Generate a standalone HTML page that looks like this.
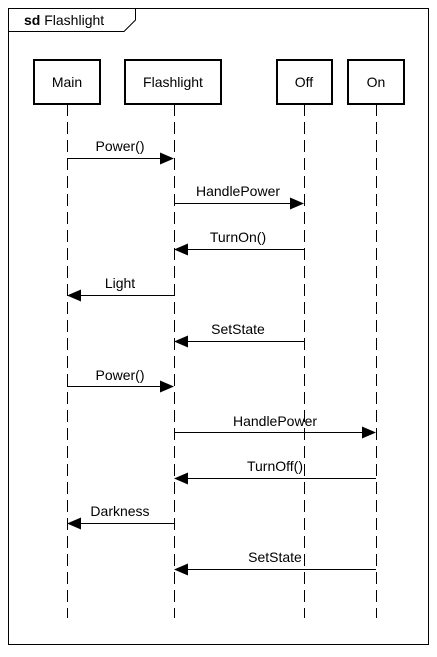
<!DOCTYPE html>
<html><head><style>body{margin:0;background:#fff}</style></head><body>
<svg width="437" height="652" xmlns="http://www.w3.org/2000/svg" font-family="Liberation Sans, Arial, sans-serif" font-size="13">
<rect x="0" y="0" width="437" height="652" fill="#fff"/>
<rect x="8.5" y="8.5" width="420" height="636" fill="none" stroke="#000" stroke-width="1"/>
<path d="M8.5 31.5 H124 L135.5 20 V8.5" fill="none" stroke="#000"/>
<text x="24" y="25" font-size="14"><tspan font-weight="bold">sd</tspan> Flashlight</text>
<g fill="#fff" stroke="#000" stroke-width="2">
<rect x="34" y="60" width="66" height="44"/>
<rect x="125" y="60" width="96" height="44"/>
<rect x="277" y="60" width="55" height="44"/>
<rect x="348" y="60" width="56" height="44"/>
</g>
<g text-anchor="middle" font-size="14">
<text x="67" y="87">Main</text>
<text x="173" y="87">Flashlight</text>
<text x="304" y="87">Off</text>
<text x="376" y="87">On</text>
</g>
<g stroke="#000" stroke-dasharray="12,6">
<line x1="67.5" y1="104" x2="67.5" y2="618"/>
<line x1="174.5" y1="104" x2="174.5" y2="618"/>
<line x1="304.5" y1="104" x2="304.5" y2="618"/>
<line x1="376.5" y1="104" x2="376.5" y2="618"/>
</g>
<g stroke="#000">
<line x1="67" y1="158.5" x2="162" y2="158.5"/>
<line x1="174" y1="203.5" x2="292" y2="203.5"/>
<line x1="304" y1="249.5" x2="186" y2="249.5"/>
<line x1="174" y1="295.5" x2="79" y2="295.5"/>
<line x1="304" y1="341.5" x2="186" y2="341.5"/>
<line x1="67" y1="386.5" x2="162" y2="386.5"/>
<line x1="174" y1="432.5" x2="364" y2="432.5"/>
<line x1="376" y1="478.5" x2="186" y2="478.5"/>
<line x1="174" y1="523.5" x2="79" y2="523.5"/>
<line x1="376" y1="569.5" x2="186" y2="569.5"/>
</g>
<g fill="#000">
<path d="M174 158.5 L160 152.5 L160 164.5Z"/>
<path d="M304 203.5 L290 197.5 L290 209.5Z"/>
<path d="M174 249.5 L188 243.5 L188 255.5Z"/>
<path d="M67 295.5 L81 289.5 L81 301.5Z"/>
<path d="M174 341.5 L188 335.5 L188 347.5Z"/>
<path d="M174 386.5 L160 380.5 L160 392.5Z"/>
<path d="M376 432.5 L362 426.5 L362 438.5Z"/>
<path d="M174 478.5 L188 472.5 L188 484.5Z"/>
<path d="M67 523.5 L81 517.5 L81 529.5Z"/>
<path d="M174 569.5 L188 563.5 L188 575.5Z"/>
</g>
<g text-anchor="middle" font-size="14">
<text x="120" y="151">Power()</text>
<text x="238" y="196">HandlePower</text>
<text x="238" y="242">TurnOn()</text>
<text x="120" y="288">Light</text>
<text x="238" y="334">SetState</text>
<text x="120" y="380">Power()</text>
<text x="275" y="426">HandlePower</text>
<text x="275" y="471">TurnOff()</text>
<text x="120" y="516">Darkness</text>
<text x="275" y="562">SetState</text>
</g>
</svg>
</body></html>
